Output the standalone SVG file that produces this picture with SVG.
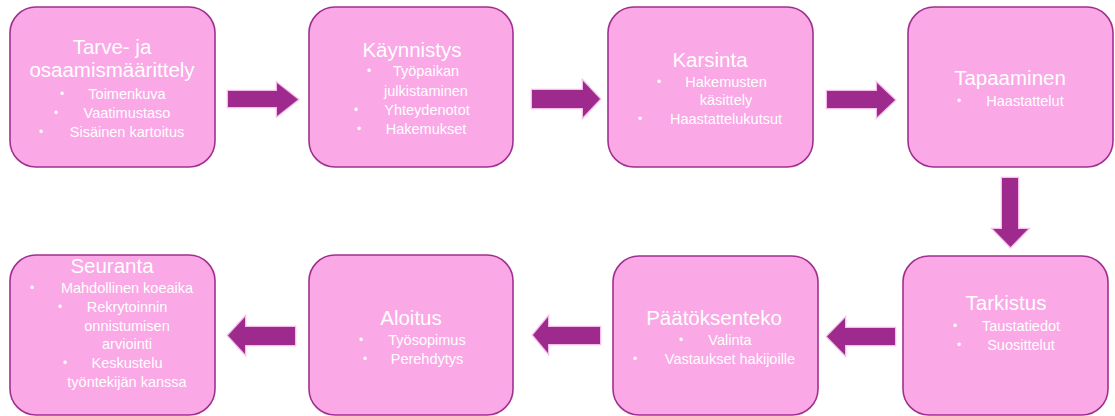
<svg xmlns="http://www.w3.org/2000/svg" width="1115" height="416" viewBox="0 0 1115 416">
<style>
.box{fill:#FAA8E6;stroke:#A0308F;stroke-width:1.6}
.t{font-family:"Liberation Sans",Arial,sans-serif;fill:#FFFFFF;text-anchor:middle}
.h{font-size:20.5px}
.b{font-size:14.5px}
.d{font-size:12px}
.arr{fill:#9E2A8E;stroke:#F6BDEB;stroke-width:2.5;paint-order:stroke;stroke-linejoin:miter}
</style>
<rect width="1115" height="416" fill="#FFFFFF"/>
<g id="connectors">
<polygon class="arr" points="228,91 277,91 277,83 298,99.5 277,116 277,107 228,107"/>
<polygon class="arr" points="532,90 583,90 583,81 600,99 583,117 583,108 532,108"/>
<polygon class="arr" points="827,91 877,91 877,83 895,100 877,117 877,108 827,108"/>
<polygon class="arr" points="1002,178 1018,178 1018,229 1028,229 1010.5,247 993,229 1002,229"/>
<polygon class="arr" points="895,328 845,328 845,318 827,336.5 845,355 845,345 895,345"/>
<polygon class="arr" points="600,327 548,327 548,317 533,335 548,353 548,344 600,344"/>
<polygon class="arr" points="295,327 245,327 245,317 228,335.5 245,354 245,345 295,345"/>
</g>
<g id="n1">
<rect class="box" x="10" y="7" width="205" height="160" rx="26"/>
<text class="t h" x="112" y="54">Tarve- ja</text>
<text class="t h" x="112" y="77">osaamismäärittely</text>
<text class="t d" x="62" y="98">•</text><text class="t b" x="127" y="99">Toimenkuva</text>
<text class="t d" x="56" y="117">•</text><text class="t b" x="127" y="118">Vaatimustaso</text>
<text class="t d" x="41" y="136">•</text><text class="t b" x="127" y="137">Sisäinen kartoitus</text>
</g>
<g id="n2">
<rect class="box" x="309" y="7" width="204" height="160" rx="26"/>
<text class="t h" x="412" y="57">Käynnistys</text>
<text class="t d" x="369" y="75">•</text><text class="t b" x="426" y="76">Työpaikan</text>
<text class="t b" x="426" y="96">julkistaminen</text>
<text class="t d" x="356" y="114">•</text><text class="t b" x="427" y="115">Yhteydenotot</text>
<text class="t d" x="359" y="133">•</text><text class="t b" x="426" y="134">Hakemukset</text>
</g>
<g id="n3">
<rect class="box" x="608" y="7" width="205" height="160" rx="26"/>
<text class="t h" x="710" y="67">Karsinta</text>
<text class="t d" x="659" y="86">•</text><text class="t b" x="726" y="87">Hakemusten</text>
<text class="t b" x="726" y="105">käsittely</text>
<text class="t d" x="640" y="123">•</text><text class="t b" x="726" y="124">Haastattelukutsut</text>
</g>
<g id="n4">
<rect class="box" x="908" y="7" width="205" height="160" rx="26"/>
<text class="t h" x="1010" y="85">Tapaaminen</text>
<text class="t d" x="959" y="105">•</text><text class="t b" x="1025" y="106">Haastattelut</text>
</g>
<g id="n5">
<rect class="box" x="903" y="256" width="205" height="159" rx="26"/>
<text class="t h" x="1006" y="310">Tarkistus</text>
<text class="t d" x="955" y="330">•</text><text class="t b" x="1021" y="331">Taustatiedot</text>
<text class="t d" x="959" y="349">•</text><text class="t b" x="1021" y="350">Suosittelut</text>
</g>
<g id="n6">
<rect class="box" x="613" y="256" width="205" height="159" rx="26"/>
<text class="t h" x="714" y="325">Päätöksenteko</text>
<text class="t d" x="681" y="344">•</text><text class="t b" x="730" y="345">Valinta</text>
<text class="t d" x="635" y="363">•</text><text class="t b" x="730" y="364">Vastaukset hakijoille</text>
</g>
<g id="n7">
<rect class="box" x="309" y="255" width="204" height="160" rx="26"/>
<text class="t h" x="411" y="325">Aloitus</text>
<text class="t d" x="361" y="344">•</text><text class="t b" x="427" y="345">Työsopimus</text>
<text class="t d" x="365" y="363">•</text><text class="t b" x="427" y="364">Perehdytys</text>
</g>
<g id="n8">
<rect class="box" x="10" y="255" width="205" height="160" rx="26"/>
<text class="t h" x="112" y="273">Seuranta</text>
<text class="t d" x="32" y="292">•</text><text class="t b" x="127" y="293">Mahdollinen koeaika</text>
<text class="t d" x="60" y="311">•</text><text class="t b" x="127" y="312">Rekrytoinnin</text>
<text class="t b" x="127" y="331">onnistumisen</text>
<text class="t b" x="127" y="349">arviointi</text>
<text class="t d" x="65" y="367">•</text><text class="t b" x="127" y="368">Keskustelu</text>
<text class="t b" x="127" y="387">työntekijän kanssa</text>
</g>
</svg>
